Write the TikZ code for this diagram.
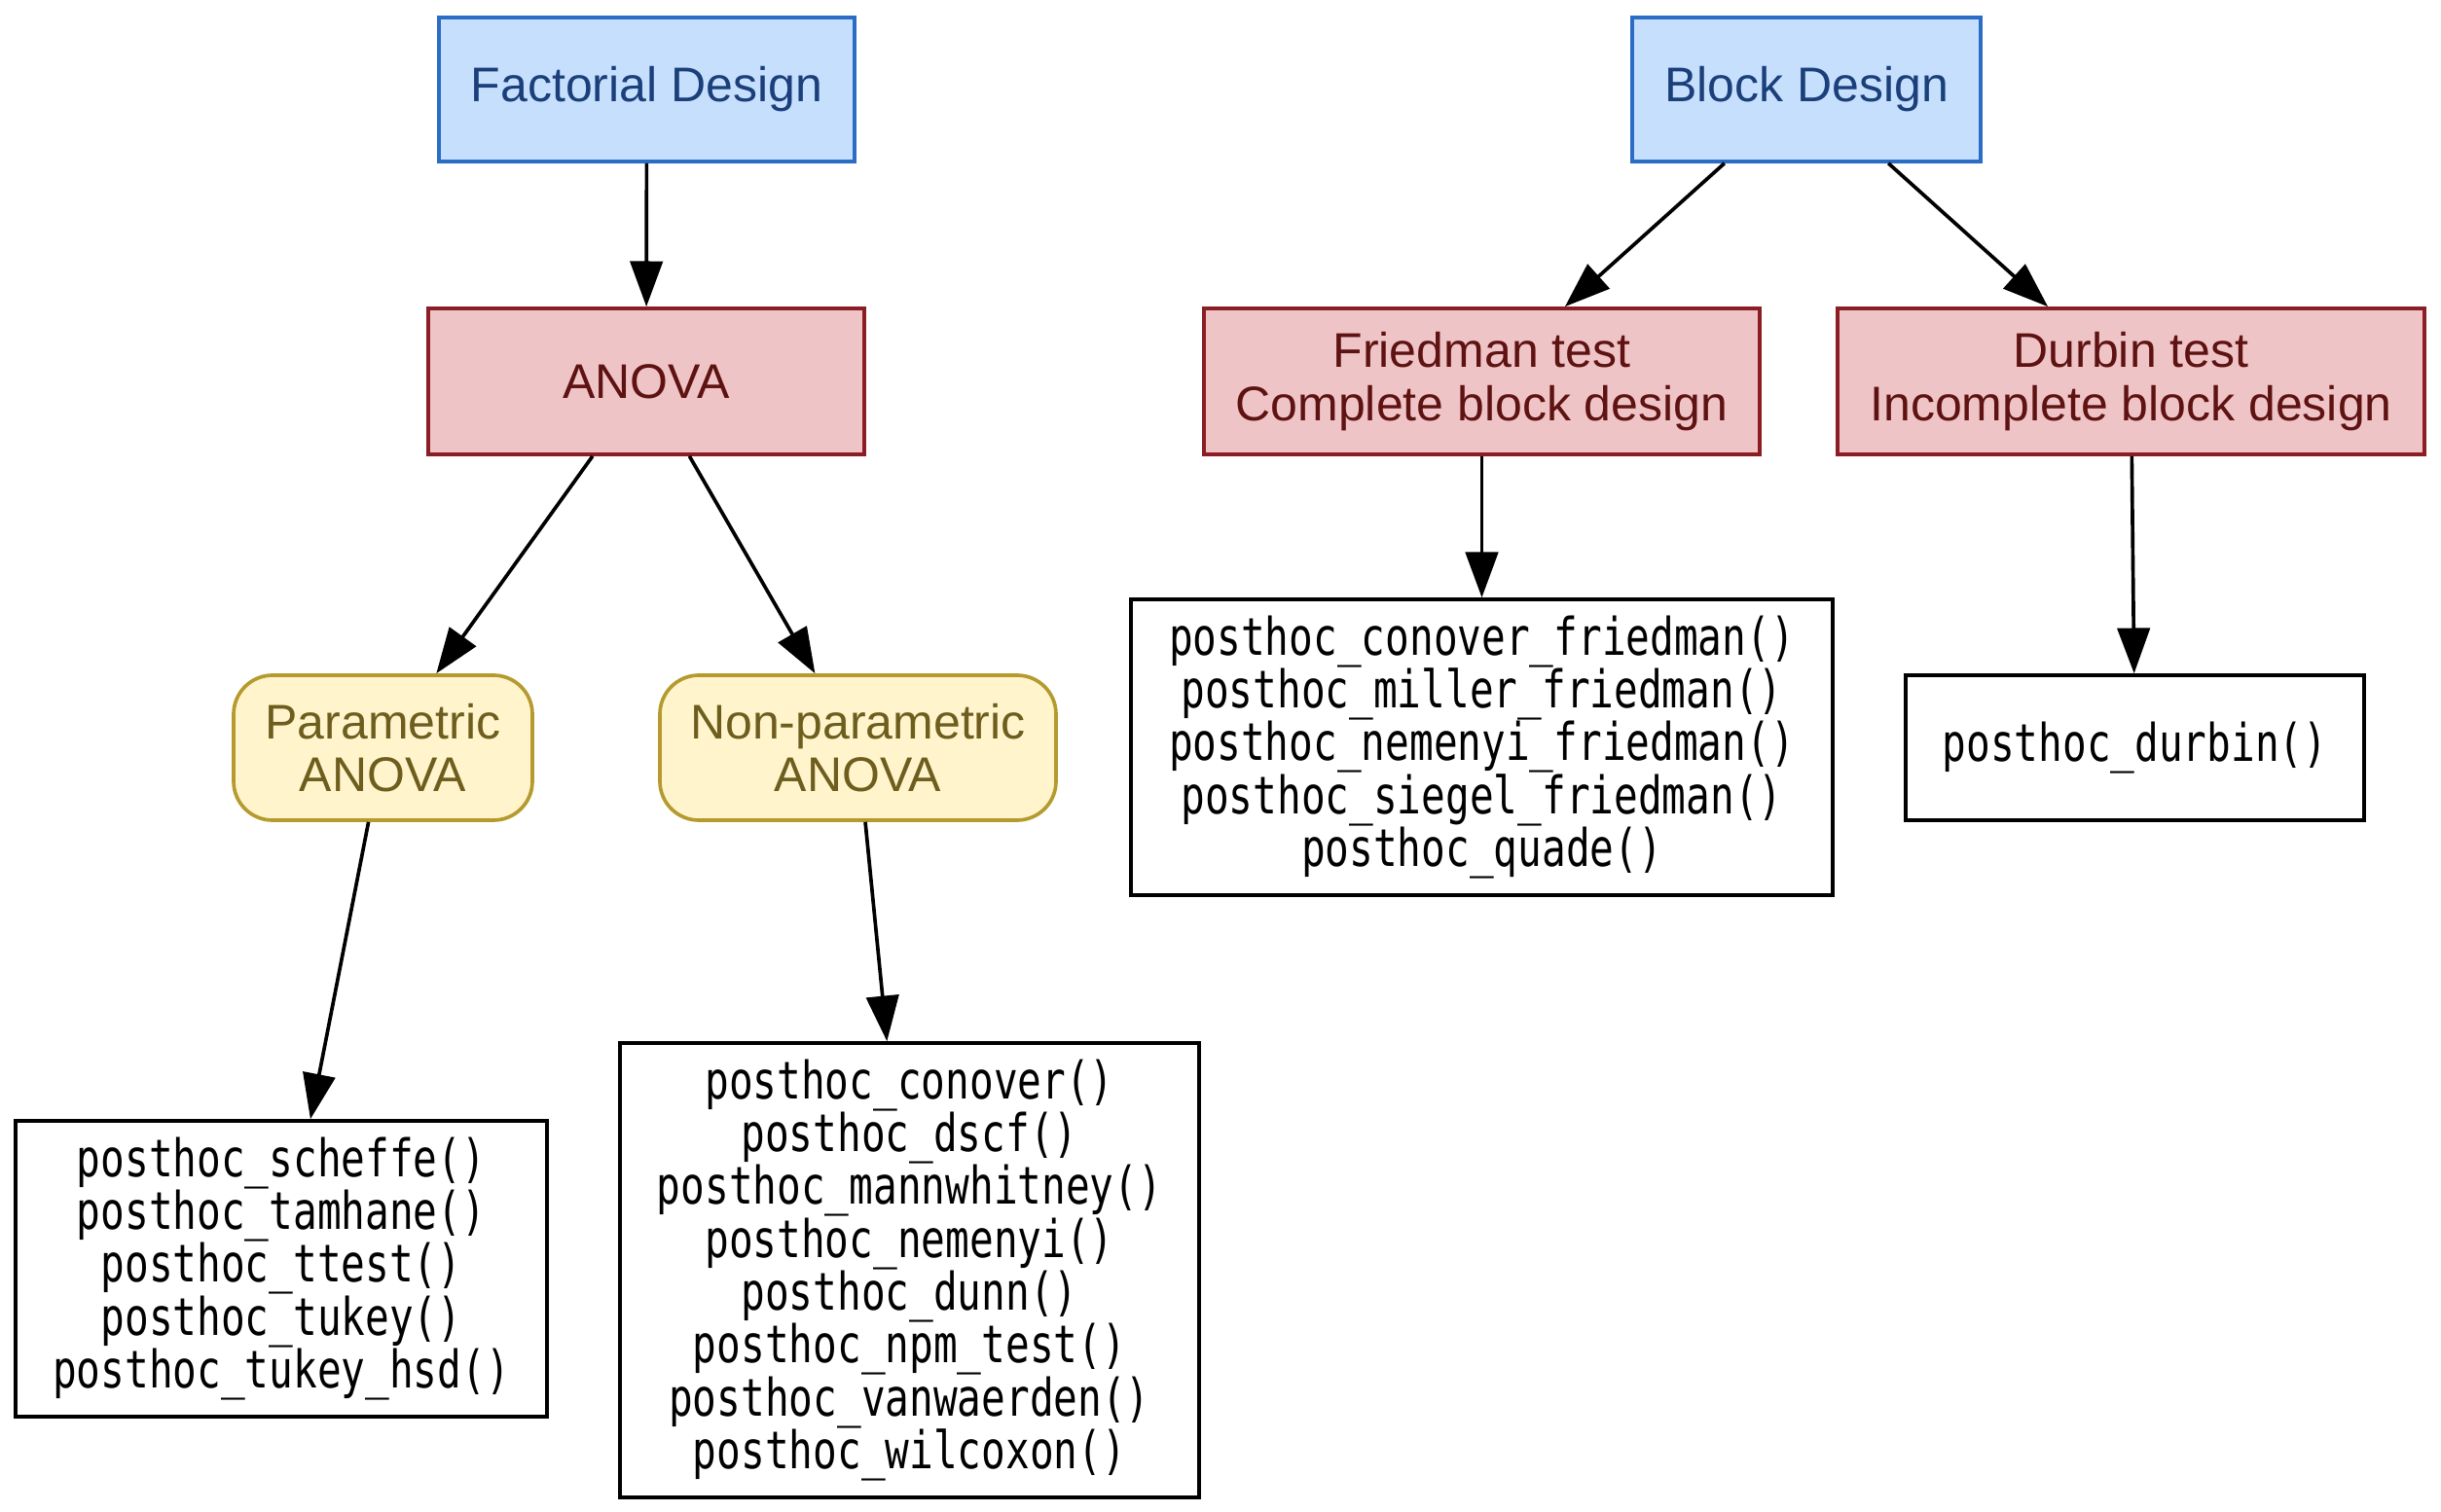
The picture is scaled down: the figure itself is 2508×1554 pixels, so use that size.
\documentclass[tikz,border=0pt]{standalone}
\usepackage{fontspec}
\setmainfont{Liberation Sans}
\newfontfamily\monof[FakeStretch=0.77]{DejaVu Sans Mono}
\usetikzlibrary{arrows.meta}
\definecolor{bluefill}{HTML}{C6DFFD}
\definecolor{blueline}{HTML}{2B6CC4}
\definecolor{bluetext}{HTML}{1B3F7A}
\definecolor{redfill}{HTML}{EFC4C6}
\definecolor{redline}{HTML}{8B1E24}
\definecolor{redtext}{HTML}{5E1212}
\definecolor{yelfill}{HTML}{FFF4CC}
\definecolor{yelline}{HTML}{B59A2E}
\definecolor{yeltext}{HTML}{6E5E1E}
\begin{document}
\begin{tikzpicture}[x=0.3pt,y=-0.3pt,
  base/.style={draw, line width=1.1pt, inner sep=0pt, align=center,
    font=\fontsize{15}{16.3}\selectfont},
  design/.style={base, fill=bluefill, draw=blueline, text=bluetext},
  testbox/.style={base, fill=redfill, draw=redline, text=redtext},
  anv/.style={base, fill=yelfill, draw=yelline, text=yeltext, rounded corners=12pt},
  codebox/.style={base, draw=black, font=\monof\fontsize{16}{16.3}\selectfont},
  arr/.style={-{Triangle[length=14pt,width=10pt]}, line width=1.1pt}]
\useasboundingbox (0,0) rectangle (2508,1554);

\node[design, minimum width=128.1pt, minimum height=44.4pt] (fact) at (664.5,92) {Factorial Design};
\node[design, minimum width=107.4pt, minimum height=44.4pt] (block) at (1856,92) {Block Design};

\node[testbox, minimum width=134.4pt, minimum height=45pt] (anova) at (664,392) {ANOVA};
\node[testbox, minimum width=171.3pt, minimum height=45pt] (fried) at (1522.5,392) {Friedman test\\Complete block design};
\node[testbox, minimum width=180.9pt, minimum height=45pt] (durbin) at (2189.5,392) {Durbin test\\Incomplete block design};

\node[anv, minimum width=92.1pt, minimum height=44.7pt] (param) at (393.5,768.5) {Parametric\\ANOVA};
\node[anv, minimum width=122.1pt, minimum height=44.7pt] (nonparam) at (881.5,768.5) {Non-parametric\\ANOVA};

\node[codebox, minimum width=216.3pt, minimum height=91.2pt] (friedbox) at (1522.5,768) {posthoc\_conover\_friedman()\\posthoc\_miller\_friedman()\\posthoc\_nemenyi\_friedman()\\posthoc\_siegel\_friedman()\\posthoc\_quade()};
\node[codebox, minimum width=141.3pt, minimum height=44.7pt] (durbinbox) at (2193.5,768.5) {posthoc\_durbin()};

\node[codebox, minimum width=163.8pt, minimum height=91.2pt] (parbox) at (289,1304) {posthoc\_scheffe()\\posthoc\_tamhane()\\posthoc\_ttest()\\posthoc\_tukey()\\posthoc\_tukey\_hsd()};
\node[codebox, minimum width=178.5pt, minimum height=140.1pt] (npbox) at (934.5,1305.5) {posthoc\_conover()\\posthoc\_dscf()\\posthoc\_mannwhitney()\\posthoc\_nemenyi()\\posthoc\_dunn()\\posthoc\_npm\_test()\\posthoc\_vanwaerden()\\posthoc\_wilcoxon()};

\draw[arr] (fact) -- (anova);
\draw[arr] (block) -- (fried);
\draw[arr] (block) -- (durbin);
\draw[arr] (anova) -- (param);
\draw[arr] (anova) -- (nonparam);
\draw[arr] (fried) -- (friedbox);
\draw[arr] (durbin) -- (durbinbox);
\draw[arr] (param) -- (parbox);
\draw[arr] (nonparam) -- (npbox);
\end{tikzpicture}
\end{document}
